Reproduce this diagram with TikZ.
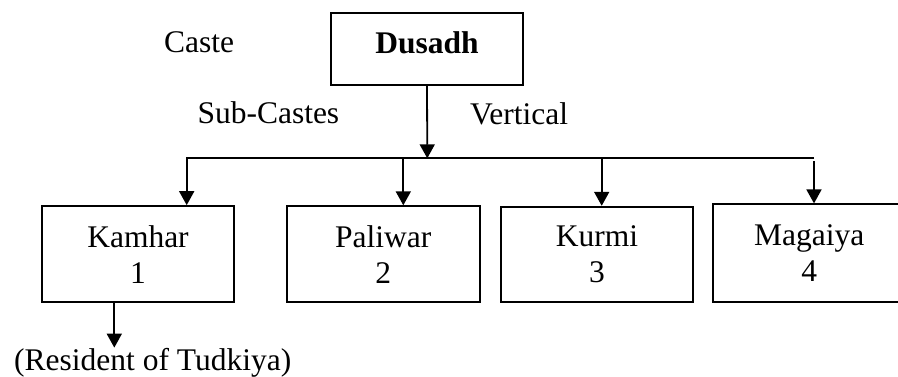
\documentclass[tikz,border=0pt]{standalone}
\usepackage{fontspec}
\setmainfont{Liberation Serif}
\usetikzlibrary{arrows.meta}
\begin{document}
\begin{tikzpicture}[x=1pt,y=-1pt,
  every node/.style={inner sep=0pt, font=\fontsize{31.5}{36}\selectfont},
  box/.style={draw, line width=1.8pt, align=center},
  label text/.style={anchor=base west},
  wire/.style={line width=1.8pt},
  link/.style={wire, line join=miter, -{Triangle[width=15pt,length=14pt]}}]
  \clip (0,0) rectangle (898,377);

  % caste and its four sub-castes
  \node[box, minimum width=192.6pt, minimum height=72.3pt,
        text height=21.4pt, text depth=12.4pt]
    (dusadh) at (427,48.8) {\textbf{Dusadh}};
  \node[box, minimum width=192.6pt, minimum height=96.3pt]
    (kamhar) at (138,254.2) {Kamhar\\1};
  \node[box, minimum width=193.3pt, minimum height=96pt]
    (paliwar) at (383.3,254.2) {Paliwar\\2};
  \node[box, minimum width=192.6pt, minimum height=95pt]
    (kurmi) at (597,254.2) {Kurmi\\3};
  \node[box, minimum width=191.7pt, minimum height=97.4pt]
    (magaiya) at (809.2,253) {Magaiya\\4};

  % side labels
  \node[label text] (caste) at (164,53) {Caste};
  \node[label text] (subcastes) at (197.3,124) {Sub-Castes};
  \node[label text] (vertical) at (470,124.3) {Vertical};
  \node[label text] (resident) at (14,370) {(Resident of Tudkiya)};

  % distribution bus
  \coordinate (hub) at (427.3,158.3);
  \coordinate (bl) at (186.7,158.3);
  \coordinate (b2) at (403.3,158.3);
  \coordinate (b3) at (601.7,158.3);
  \coordinate (br) at (814,158.3);
  \coordinate (kdrop) at (114.3,0);

  \draw[link] (dusadh.south) -- (hub);
  \draw[link] (br) -- (bl) -- (bl |- kamhar.north);
  \draw[link] (b2) -- (b2 |- paliwar.north);
  \draw[link] (b3) -- (b3 |- kurmi.north);
  \draw[link] ([yshift=-3pt]br) -- (br |- magaiya.north);
  \draw[link] (kamhar.south -| kdrop) -- (resident.north -| kdrop);
\end{tikzpicture}
\end{document}
